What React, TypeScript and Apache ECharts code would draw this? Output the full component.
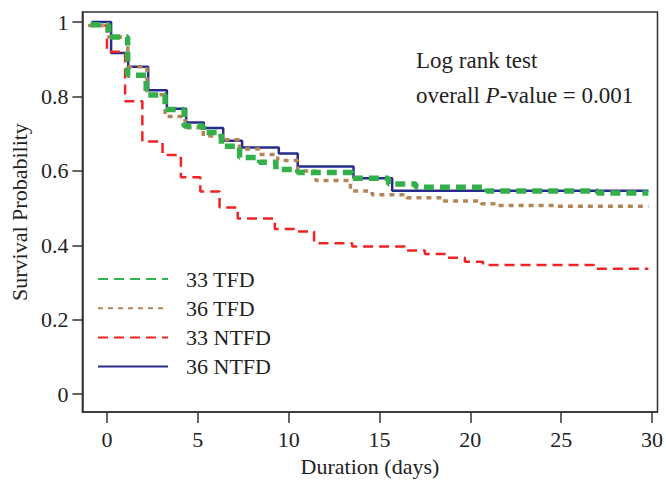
import React, { useEffect, useRef } from "react";
import * as echarts from "echarts";

const xTicks = [0, 5, 10, 15, 20, 25, 30];
const yTicks = [0, 0.2, 0.4, 0.6, 0.8, 1];

const tfd33Time = [-0.9, 0.1, 1.14, 2.16, 3.2, 4.25, 5.3, 6.3, 7.3, 8.4, 9.3, 10.5, 13.5, 15.5, 17.0, 20.9, 27, 29.8];
const tfd33Surv = [0.993, 0.96, 0.857, 0.804, 0.765, 0.721, 0.703, 0.666, 0.636, 0.623, 0.604, 0.596, 0.58, 0.565, 0.556, 0.546, 0.541, 0.541];

const tfd36Time = [-1.0, 0.0, 1.15, 2.2, 3.2, 4.3, 5.3, 6.4, 7.3, 8.4, 9.4, 10.5, 11.5, 13.4, 14.6, 16.5, 18.5, 20.6, 21.5, 24.6, 29.8];
const tfd36Surv = [0.991, 0.96, 0.88, 0.805, 0.746, 0.716, 0.694, 0.684, 0.659, 0.644, 0.628, 0.6, 0.574, 0.546, 0.536, 0.528, 0.519, 0.512, 0.507, 0.505, 0.505];

const ntfd33Time = [-1.03, 0.0, 1.0, 1.95, 3.06, 4.07, 5.14, 6.2, 7.2, 9.24, 10.3, 11.4, 13.5, 16.4, 17.5, 18.6, 19.7, 20.7, 26.8, 29.8];
const ntfd33Surv = [0.991, 0.92, 0.787, 0.679, 0.643, 0.583, 0.545, 0.502, 0.472, 0.444, 0.437, 0.406, 0.397, 0.386, 0.377, 0.367, 0.356, 0.347, 0.337, 0.337];

const ntfd36Time = [-0.85, 0.23, 1.17, 2.27, 3.3, 4.36, 5.33, 6.4, 7.44, 9.46, 10.5, 13.57, 15.7, 29.8];
const ntfd36Surv = [1.0, 0.917, 0.88, 0.817, 0.767, 0.73, 0.715, 0.681, 0.663, 0.647, 0.612, 0.58, 0.547, 0.547];

const pairs = (t: number[], v: number[]) => t.map((x, i) => [x, v[i]]);

const FONT = "'Liberation Serif', 'Times New Roman', serif";
const AXIS = "#333333";

export default function App() {
  const ref = useRef<HTMLDivElement>(null);
  useEffect(() => {
    if (!ref.current) return;
    const chart = echarts.init(ref.current, undefined, { renderer: "svg" });
    chart.setOption({
      animation: false,
      backgroundColor: "#ffffff",
      textStyle: { fontFamily: FONT },
      grid: {
        left: 79,
        top: 12,
        width: 585,
        height: 403,
        show: true,
        borderColor: AXIS,
        borderWidth: 1.5,
      },
      xAxis: {
        type: "value",
        min: -1.35,
        max: 30.3,
        name: "Duration (days)",
        nameLocation: "middle",
        nameGap: 40,
        nameTextStyle: { fontFamily: FONT, fontSize: 22, color: "#222" },
        axisLine: { show: true, onZero: false, lineStyle: { color: AXIS, width: 1.5 } },
        axisTick: { show: true, length: 11, customValues: xTicks, lineStyle: { color: AXIS, width: 1.5 } },
        axisLabel: { customValues: xTicks, margin: 16, fontFamily: FONT, fontSize: 22, color: "#222" },
        splitLine: { show: false },
      },
      yAxis: {
        type: "value",
        min: -0.048,
        max: 1.027,
        name: "Survival Probability",
        nameLocation: "middle",
        nameRotate: 90,
        nameGap: 48,
        nameTextStyle: { fontFamily: FONT, fontSize: 22, color: "#222" },
        axisLine: { show: true, onZero: false, lineStyle: { color: AXIS, width: 1.5 } },
        axisTick: { show: true, length: 10, customValues: yTicks, lineStyle: { color: AXIS, width: 1.5 } },
        axisLabel: { customValues: yTicks, margin: 14, fontFamily: FONT, fontSize: 22, color: "#222" },
        splitLine: { show: false },
      },
      legend: {
        orient: "vertical",
        left: 97,
        top: 268,
        padding: 0,
        itemWidth: 70,
        itemHeight: 20,
        itemGap: 7.2,
        data: ["33 TFD", "36 TFD", "33 NTFD", "36 NTFD"],
        itemStyle: { opacity: 0, color: "transparent", borderWidth: 0 },
        textStyle: { fontFamily: FONT, fontSize: 22, color: "#222", padding: [0, 0, 0, 13] },
      },
      graphic: [
        {
          type: "text",
          left: 416,
          top: 49,
          style: { text: "Log rank test", font: `23px ${FONT}`, fill: "#222" },
        },
        {
          type: "text",
          left: 416,
          top: 84,
          style: {
            text: "{a|overall }{p|P}{a|-value = 0.001}",
            fill: "#222",
            rich: {
              a: { fontFamily: FONT, fontSize: 23, fill: "#222" },
              p: { fontFamily: FONT, fontSize: 23, fontStyle: "italic", fill: "#222" },
            },
          },
        },
      ],
      series: [
        {
          name: "36 NTFD",
          type: "line",
          step: "end",
          symbol: "none",
          data: pairs(ntfd36Time, ntfd36Surv),
          itemStyle: { color: "#272c8c" },
          lineStyle: { color: "#272c8c", width: 2.5 },
        },
        {
          name: "33 NTFD",
          type: "line",
          step: "end",
          symbol: "none",
          data: pairs(ntfd33Time, ntfd33Surv),
          itemStyle: { color: "#f02323" },
          lineStyle: { color: "#f02323", width: 2.5, type: [10, 6] },
        },
        {
          name: "36 TFD",
          type: "line",
          step: "end",
          symbol: "none",
          data: pairs(tfd36Time, tfd36Surv),
          itemStyle: { color: "#b3865a" },
          lineStyle: { color: "#b3865a", width: 3.5, type: [5, 5] },
        },
        {
          name: "33 TFD",
          type: "line",
          step: "end",
          symbol: "none",
          data: pairs(tfd33Time, tfd33Surv),
          itemStyle: { color: "#33b04a" },
          lineStyle: { color: "#33b04a", width: 5.5, type: [10, 6] },
        },
      ],
    });
    return () => chart.dispose();
  }, []);
  return <div ref={ref} style={{ width: 666, height: 482, position: "absolute", left: 0, top: 0 }} />;
}
